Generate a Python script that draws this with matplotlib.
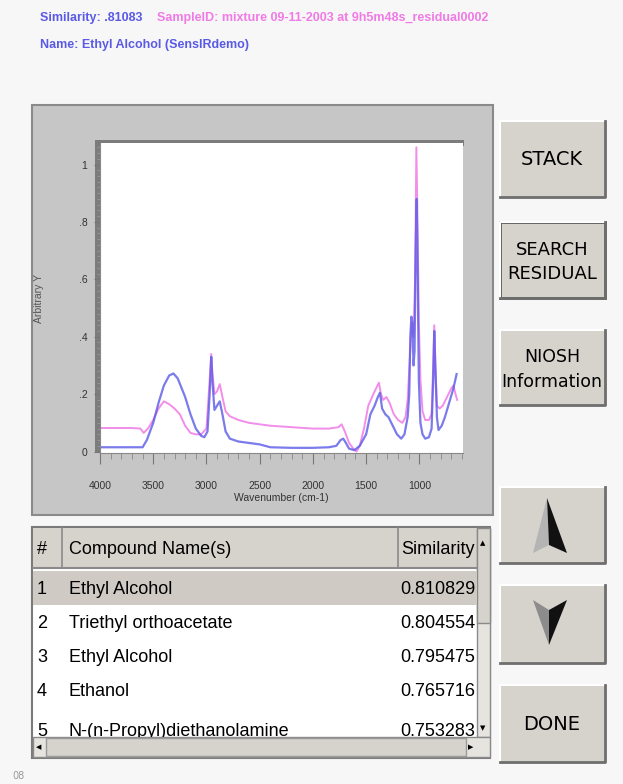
import numpy as np
import matplotlib.pyplot as plt
from matplotlib.patches import Rectangle, Polygon

# spectrum: wavenumber (cm-1), arbitrary Y
blue_wn = [4000, 3700, 3600, 3560, 3500, 3450, 3400, 3350, 3310, 3270, 3200, 3150,
           3100, 3050, 3020, 2990, 2970, 2955, 2945, 2925, 2900, 2875, 2850, 2820,
           2780, 2700, 2600, 2500, 2400, 2200, 2000, 1850, 1780, 1740, 1715, 1690,
           1660, 1610, 1560, 1500, 1460, 1420, 1390, 1370, 1350, 1320, 1290, 1250,
           1210, 1170, 1140, 1110, 1095, 1085, 1075, 1065, 1055, 1045, 1035, 1025,
           1015, 1005, 990, 970, 945, 910, 885, 870, 860, 850, 835, 820, 790, 760,
           720, 680, 650]
blue_y = [0.015, 0.015, 0.015, 0.04, 0.10, 0.17, 0.23, 0.265, 0.272, 0.255, 0.19, 0.13,
          0.08, 0.055, 0.05, 0.07, 0.20, 0.33, 0.25, 0.145, 0.16, 0.175, 0.13, 0.07,
          0.045, 0.035, 0.03, 0.025, 0.015, 0.013, 0.013, 0.015, 0.02, 0.04, 0.045, 0.03,
          0.01, 0.005, 0.02, 0.06, 0.13, 0.16, 0.19, 0.205, 0.15, 0.13, 0.12, 0.09,
          0.06, 0.045, 0.06, 0.12, 0.20, 0.40, 0.47, 0.45, 0.30, 0.35, 0.70, 0.88,
          0.60, 0.25, 0.10, 0.06, 0.045, 0.05, 0.08, 0.25, 0.42, 0.30, 0.12, 0.075, 0.09, 0.12,
          0.17, 0.22, 0.27]

pink_wn = [4000, 3700, 3620, 3590, 3550, 3500, 3450, 3400, 3350, 3300, 3250, 3200,
           3150, 3100, 3050, 3000, 2975, 2955, 2945, 2925, 2900, 2875, 2850, 2820,
           2780, 2700, 2600, 2500, 2400, 2200, 2000, 1850, 1760, 1730, 1700, 1660,
           1620, 1590, 1560, 1520, 1480, 1420, 1380, 1360, 1340, 1310, 1280, 1240,
           1200, 1160, 1130, 1110, 1090, 1070, 1055, 1040, 1028, 1015, 1005, 990,
           970, 945, 910, 885, 870, 860, 850, 835, 810, 780, 740, 700, 680, 660, 645]
pink_y = [0.082, 0.082, 0.08, 0.065, 0.08, 0.11, 0.15, 0.175, 0.165, 0.15, 0.13, 0.09,
          0.065, 0.06, 0.06, 0.08, 0.22, 0.34, 0.28, 0.20, 0.21, 0.235, 0.19, 0.14,
          0.123, 0.11, 0.10, 0.095, 0.09, 0.085, 0.08, 0.08, 0.085, 0.095, 0.07, 0.03,
          0.01, 0.0, 0.02, 0.08, 0.16, 0.21, 0.24, 0.20, 0.18, 0.19, 0.17, 0.13,
          0.11, 0.10, 0.12, 0.18, 0.32, 0.45, 0.40, 0.60, 1.06, 0.75, 0.45, 0.25,
          0.14, 0.11, 0.11, 0.13, 0.30, 0.44, 0.30, 0.16, 0.15, 0.16, 0.19, 0.22, 0.23, 0.20, 0.18]

xticks = [4000, 3500, 3000, 2500, 2000, 1500, 1000]
yticks = [0, 0.2, 0.4, 0.6, 0.8, 1.0]
ytick_labels = ['0', '.2', '.4', '.6', '.8', '1']

ranks = ['1', '2', '3', '4', '5']
compounds = ['Ethyl Alcohol', 'Triethyl orthoacetate', 'Ethyl Alcohol', 'Ethanol',
             'N-(n-Propyl)diethanolamine']
similarity = ['0.810829', '0.804554', '0.795475', '0.765716', '0.753283']

buttons = ['STACK', 'SEARCH\nRESIDUAL', 'NIOSH\nInformation']

W, H = 623, 784
NARROW = ['Liberation Sans Narrow', 'DejaVu Sans Condensed', 'Liberation Sans', 'DejaVu Sans']
BLUE = '#5a5ae6'
PINK = '#f07ae6'
FACE = '#d6d3cc'

fig = plt.figure(figsize=(W / 100, H / 100), dpi=100)
fig.patch.set_facecolor('#f7f7f7')


def px_axes(x0, y0, x1, y1, z=0):
    return fig.add_axes([x0 / W, 1 - y1 / H, (x1 - x0) / W, (y1 - y0) / H], zorder=z)


# whole-figure layer for the window furniture, in pixels
ui = px_axes(0, 0, W, H)
ui.set_xlim(0, W)
ui.set_ylim(H, 0)
ui.axis('off')


def button(y0, y1, pressed=False):
    x0, x1 = 500, 605
    ui.add_patch(Rectangle((x0, y0), x1 - x0, y1 - y0, fc=FACE, ec='none'))
    ui.plot([x0, x0, x1], [y1, y0, y0], color='white', lw=1.5)
    ui.plot([x0, x1, x1], [y1, y1, y0], color='#6e6e6e', lw=2)
    if pressed:
        ui.add_patch(Rectangle((x0, y0), x1 - x0, y1 - y0, fc='none', ec='#555555', lw=2))


# header texts
ui.text(40, 18, 'Similarity: .81083', color=BLUE, fontsize=9, family=NARROW,
        va='center', fontweight='bold')
ui.text(157, 18, 'SampleID: mixture 09-11-2003 at 9h5m48s_residual0002', color=PINK,
        fontsize=9, family=NARROW, va='center', fontweight='bold')
ui.text(40, 45, 'Name: Ethyl Alcohol (SensIRdemo)', color=BLUE, fontsize=9,
        family=NARROW, va='center', fontweight='bold')

# chart panel
ui.add_patch(Rectangle((32, 105), 461, 410, fc='#c6c6c6', ec='#8a8a8a', lw=1.5))
ui.add_patch(Rectangle((95, 140), 369, 6, fc='#7c7c7c', ec='none'))
ui.add_patch(Rectangle((95, 140), 5, 313, fc='#7c7c7c', ec='none'))

# buttons
button(121, 197)
button(222, 298, pressed=True)
button(330, 405)
button(487, 563)
button(585, 663)
button(685, 762)
ui.text(552, 159, buttons[0], fontsize=14, ha='center', va='center')
ui.text(552, 262, buttons[1], fontsize=13, ha='center', va='center', linespacing=1.45)
ui.text(552, 369, buttons[2], fontsize=12.5, ha='center', va='center', linespacing=1.5)
ui.text(552, 724, 'DONE', fontsize=14, ha='center', va='center')
ui.add_patch(Polygon([(547, 498), (533, 553), (549, 545)], fc='#b4b4b4', ec='none'))
ui.add_patch(Polygon([(547, 498), (549, 545), (567, 553)], fc='#111111', ec='none'))
ui.add_patch(Polygon([(533, 600), (549, 610), (549, 645)], fc='#8c8c8c', ec='none'))
ui.add_patch(Polygon([(549, 610), (567, 600), (549, 645)], fc='#111111', ec='none'))

# results list frame
ui.add_patch(Rectangle((32, 527), 458, 231, fc='white', ec='#7a7a7a', lw=1.5))
ui.add_patch(Rectangle((33, 528), 444, 40, fc=FACE, ec='none'))
ui.plot([33, 477], [568, 568], color='#8a8a8a', lw=1.5)
ui.plot([62, 62], [528, 568], color='#8a8a8a', lw=1.2)
ui.plot([398, 398], [528, 568], color='#8a8a8a', lw=1.2)
ui.text(42, 549, '#', fontsize=13, family=NARROW, ha='center', va='center')
ui.text(69, 549, 'Compound Name(s)', fontsize=13, family=NARROW, va='center')
ui.text(475, 549, 'Similarity', fontsize=13, family=NARROW, ha='right', va='center')
# scroll bars
ui.add_patch(Rectangle((477, 528), 13, 209, fc='#e6e4df', ec='#8a8a8a', lw=1))
ui.add_patch(Rectangle((477, 528), 13, 95, fc=FACE, ec='#8a8a8a', lw=1))
ui.text(483, 543, '▲', fontsize=5, ha='center', va='center')
ui.text(483, 728, '▼', fontsize=5, ha='center', va='center')
ui.add_patch(Rectangle((33, 737), 457, 20, fc='#e6e4df', ec='#8a8a8a', lw=1))
ui.add_patch(Rectangle((46, 738), 420, 18, fc=FACE, ec='#9a9a9a', lw=1))
ui.text(39, 747, '◀', fontsize=5, ha='center', va='center')
ui.text(471, 747, '▶', fontsize=5, ha='center', va='center')
ui.text(12, 776, '08', fontsize=7, color='#999999', va='center')

# list body, clipped at the scroll bar
lst = px_axes(33, 569, 477, 737, z=2)
lst.set_xlim(33, 477)
lst.set_ylim(737, 569)
lst.axis('off')
lst.add_patch(Rectangle((33, 571), 444, 34, fc='#cfcbc4', ec='none'))
row_y = [590, 624, 658, 692, 731]
for r, name, sim, yy in zip(ranks, compounds, similarity, row_y):
    for x, s, ha in [(42, r, 'center'), (69, name, 'left'), (475, sim, 'right')]:
        lst.text(x, yy, s, fontsize=13, family=NARROW, ha=ha, va='center', clip_on=True)

# spectrum
ax = px_axes(100, 143, 463, 453, z=1)
ax.set_facecolor('white')
ax.plot(pink_wn, pink_y, color=PINK, lw=1.4, alpha=0.85)
ax.plot(blue_wn, blue_y, color=BLUE, lw=1.6, alpha=0.8)
ax.set_xlim(4000, 590)
ax.set_ylim(-0.005, 1.075)
ax.set_xticks(xticks)
ax.set_xticks(np.arange(4000, 599, -100), minor=True)
ax.set_yticks(yticks)
ax.set_yticklabels(ytick_labels)
ax.set_yticks(np.arange(0, 1.07, 0.02), minor=True)
for s in ['top', 'right']:
    ax.spines[s].set_visible(False)
for s in ['left', 'bottom']:
    ax.spines[s].set_color('#888888')
ax.tick_params(axis='x', which='major', length=8, color='#777777', pad=12,
               labelsize=7.5, labelcolor='#333333')
ax.tick_params(axis='x', which='minor', length=4, color='#888888')
ax.tick_params(axis='y', which='major', length=4, color='#777777', pad=5,
               labelsize=7.5, labelcolor='#333333')
ax.tick_params(axis='y', which='minor', length=2, color='#999999')
for lab in ax.get_xticklabels() + ax.get_yticklabels():
    lab.set_family(NARROW)
ax.set_xlabel('Wavenumber (cm-1)', fontsize=7.5, family=NARROW, color='#333333')
ax.xaxis.set_label_coords(0.5, -0.145)
ax.xaxis.label.set_va('center')
ax.set_ylabel('Arbitrary Y', fontsize=7.5, family=NARROW, color='#555555')
ax.yaxis.set_label_coords(-0.155, 0.5)

fig.savefig('out.png', dpi=100)
